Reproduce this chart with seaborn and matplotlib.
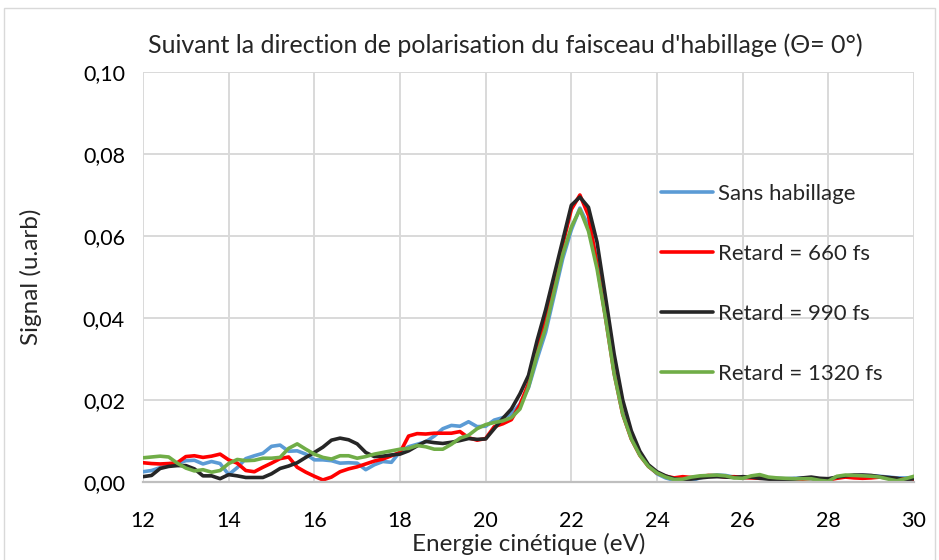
import numpy as np
import pandas as pd
import matplotlib
matplotlib.use("Agg")
import matplotlib.pyplot as plt
from matplotlib.ticker import FuncFormatter, MultipleLocator
import seaborn as sns

# Kinetic energy grid (eV), 0.2 eV steps from 12 to 30
energie = np.round(np.arange(12.0, 30.0001, 0.2), 1)

sans_habillage = [
    0.0025, 0.0028, 0.0035, 0.0040, 0.0045, 0.0052, 0.0053, 0.0044, 0.0050, 0.0045,
    0.0018, 0.0035, 0.0057, 0.0064, 0.0070, 0.0087, 0.0090, 0.0075, 0.0076, 0.0068,
    0.0054, 0.0054, 0.0052, 0.0046, 0.0047, 0.0046, 0.0030, 0.0042, 0.0050, 0.0048,
    0.0074, 0.0086, 0.0092, 0.0098, 0.0112, 0.0130, 0.0138, 0.0136, 0.0147, 0.0135,
    0.0136, 0.0151, 0.0157, 0.0166, 0.0190, 0.0230, 0.0300, 0.0365, 0.0455, 0.0545,
    0.0615, 0.0668, 0.0625, 0.0540, 0.0410, 0.0275, 0.0170, 0.0108, 0.0068, 0.0040,
    0.0020, 0.0010, 0.0004, 0.0001, 0.0003, 0.0010, 0.0015, 0.0017, 0.0016, 0.0012,
    0.0010, 0.0011, 0.0012, 0.0010, 0.0009, 0.0008, 0.0009, 0.0010, 0.0008, 0.0006,
    0.0007, 0.0011, 0.0014, 0.0015, 0.0016, 0.0015, 0.0014, 0.0012, 0.0010, 0.0010,
    0.0011,
]

retard_660 = [
    0.0047, 0.0045, 0.0044, 0.0045, 0.0047, 0.0062, 0.0064, 0.0060, 0.0063, 0.0068,
    0.0054, 0.0046, 0.0028, 0.0025, 0.0036, 0.0046, 0.0057, 0.0061, 0.0036, 0.0024,
    0.0014, 0.0005, 0.0012, 0.0025, 0.0032, 0.0037, 0.0044, 0.0051, 0.0056, 0.0064,
    0.0072, 0.0112, 0.0118, 0.0117, 0.0119, 0.0119, 0.0119, 0.0123, 0.0108, 0.0102,
    0.0106, 0.0135, 0.0142, 0.0152, 0.0188, 0.0240, 0.0325, 0.0405, 0.0490, 0.0580,
    0.0665, 0.0700, 0.0650, 0.0530, 0.0400, 0.0265, 0.0165, 0.0105, 0.0065, 0.0038,
    0.0022, 0.0014, 0.0010, 0.0013, 0.0011, 0.0013, 0.0016, 0.0015, 0.0012, 0.0013,
    0.0011, 0.0010, 0.0009, 0.0010, 0.0008, 0.0007, 0.0008, 0.0007, 0.0009, 0.0006,
    0.0005, 0.0009, 0.0012, 0.0010, 0.0009, 0.0010, 0.0012, 0.0010, 0.0008, 0.0007,
    0.0007,
]

retard_990 = [
    0.0013, 0.0016, 0.0033, 0.0038, 0.0040, 0.0040, 0.0032, 0.0015, 0.0015, 0.0008,
    0.0018, 0.0015, 0.0011, 0.0011, 0.0011, 0.0020, 0.0033, 0.0039, 0.0047, 0.0060,
    0.0072, 0.0085, 0.0102, 0.0107, 0.0103, 0.0093, 0.0072, 0.0062, 0.0063, 0.0066,
    0.0068, 0.0076, 0.0088, 0.0099, 0.0096, 0.0094, 0.0097, 0.0101, 0.0106, 0.0104,
    0.0105, 0.0130, 0.0155, 0.0178, 0.0215, 0.0260, 0.0345, 0.0420, 0.0505, 0.0590,
    0.0675, 0.0695, 0.0670, 0.0585, 0.0450, 0.0312, 0.0200, 0.0125, 0.0075, 0.0042,
    0.0025, 0.0015, 0.0008, 0.0005, 0.0007, 0.0010, 0.0012, 0.0013, 0.0012, 0.0011,
    0.0013, 0.0012, 0.0009, 0.0007, 0.0006, 0.0006, 0.0007, 0.0010, 0.0012, 0.0009,
    0.0008, 0.0012, 0.0015, 0.0017, 0.0017, 0.0016, 0.0013, 0.0011, 0.0009, 0.0005,
    0.0008,
]

retard_1320 = [
    0.0059, 0.0061, 0.0063, 0.0061, 0.0046, 0.0034, 0.0027, 0.0030, 0.0024, 0.0028,
    0.0045, 0.0055, 0.0052, 0.0053, 0.0058, 0.0058, 0.0060, 0.0082, 0.0093, 0.0080,
    0.0068, 0.0060, 0.0056, 0.0064, 0.0064, 0.0058, 0.0062, 0.0068, 0.0072, 0.0076,
    0.0080, 0.0082, 0.0089, 0.0086, 0.0080, 0.0080, 0.0092, 0.0107, 0.0114, 0.0130,
    0.0140, 0.0145, 0.0149, 0.0157, 0.0178, 0.0232, 0.0310, 0.0376, 0.0465, 0.0555,
    0.0622, 0.0665, 0.0612, 0.0520, 0.0398, 0.0263, 0.0165, 0.0105, 0.0065, 0.0038,
    0.0022, 0.0012, 0.0006, 0.0007, 0.0012, 0.0015, 0.0016, 0.0017, 0.0015, 0.0010,
    0.0009, 0.0015, 0.0018, 0.0012, 0.0010, 0.0009, 0.0008, 0.0008, 0.0008, 0.0004,
    0.0002, 0.0014, 0.0017, 0.0016, 0.0015, 0.0014, 0.0012, 0.0007, 0.0003, 0.0008,
    0.0014,
]

series_names = ["Sans habillage", "Retard = 660 fs", "Retard = 990 fs", "Retard = 1320 fs"]
series_values = [sans_habillage, retard_660, retard_990, retard_1320]
series_colors = ["#5B9BD5", "#FF0000", "#262626", "#70AD47"]

x_ticks = [12, 14, 16, 18, 20, 22, 24, 26, 28, 30]

frames = [pd.DataFrame({"Energie": energie, "Signal": vals, "Serie": name})
          for name, vals in zip(series_names, series_values)]
df = pd.concat(frames, ignore_index=True)

sns.set_theme(style="white")
plt.rcParams["font.family"] = ["Lato", "DejaVu Sans"]

W, H = 939, 560
fig = plt.figure(figsize=(W / 100, H / 100), dpi=100)
ax = fig.add_axes([143 / W, 1 - 482 / H, (914 - 143) / W, (482 - 72) / H])

sns.lineplot(data=df, x="Energie", y="Signal", hue="Serie", hue_order=series_names,
             palette=dict(zip(series_names, series_colors)), linewidth=2.6,
             ax=ax, legend=False, estimator=None, sort=False)

ax.set_xlim(12, 30)
ax.set_ylim(0, 0.10)
ax.set_xticks(x_ticks)
ax.yaxis.set_major_locator(MultipleLocator(0.02))
ax.yaxis.set_major_formatter(FuncFormatter(lambda v, _: f"{v:.2f}".replace(".", ",")))
ax.grid(True, color="#d9d9d9", linewidth=1.4)
ax.set_axisbelow(True)
for side in ["top", "right", "left"]:
    ax.spines[side].set_visible(False)
ax.spines["bottom"].set_color("#bfbfbf")
ax.spines["bottom"].set_linewidth(1.6)
ax.tick_params(axis="both", length=0, labelsize=15.5, colors="#000000")
ax.tick_params(axis="x", pad=21)
ax.tick_params(axis="y", pad=13)

# Axis titles placed in figure pixels, then converted to axes fractions
ax_h = 482 - 72
ax.set_xlabel("Energie cinétique (eV)", fontsize=17.5, va="top")
ax.xaxis.set_label_coords(0.5, -(533 - 482) / ax_h)
ax.set_ylabel("Signal (u.arb)", fontsize=17.5, va="center")
ax.yaxis.set_label_coords(-(143 - 31) / (914 - 143), 1 - (277 - 72) / ax_h)

fig.text(505 / W, 1 - 45 / H,
         "Suivant la direction de polarisation du faisceau d'habillage (Θ= 0°)",
         ha="center", va="center", fontsize=18)

handles = [plt.Line2D([], [], color=c, linewidth=2.6) for c in series_colors]
ax.legend(handles, series_names, loc="upper left",
          bbox_to_anchor=((661 - 143) / (914 - 143), 1 - (184 - 72) / ax_h),
          frameon=False, fontsize=16, handlelength=2.35, handletextpad=0.2,
          labelspacing=1.8, borderaxespad=0, borderpad=0)

# Outer chart frame (bottom edge runs off the canvas)
fig.patches.append(plt.Rectangle((4 / W, -4 / H), 931 / W, 556 / H,
                                 transform=fig.transFigure, fill=False,
                                 edgecolor="#d9d9d9", linewidth=1.0))

fig.savefig("out.png", dpi=100, facecolor="white")
